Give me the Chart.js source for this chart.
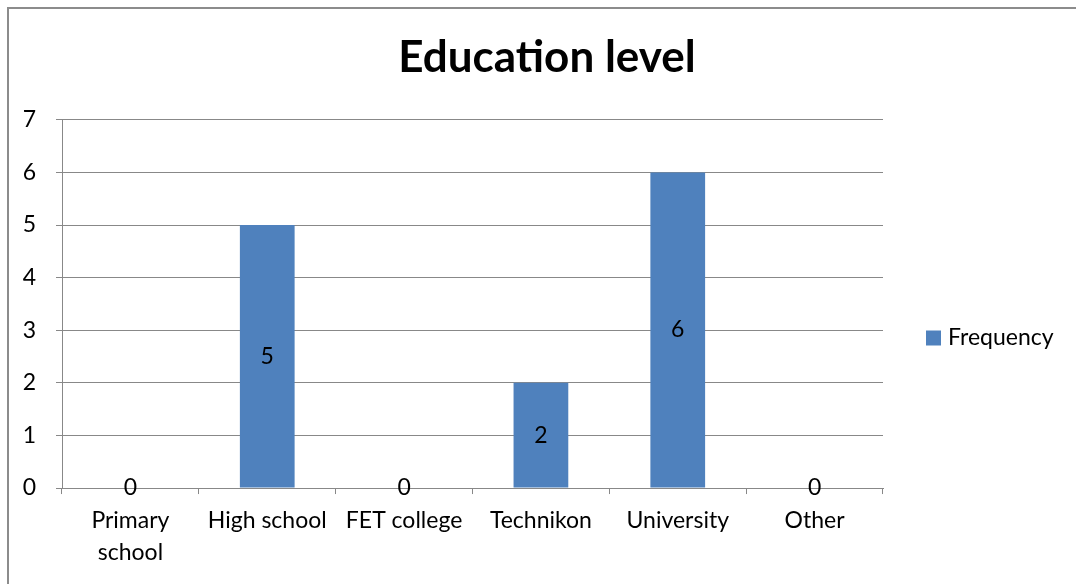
<!DOCTYPE html>
<html>
<head>
<meta charset="utf-8">
<script src="https://cdn.jsdelivr.net/npm/chart.js@4"></script>
<style>
  html, body { margin: 0; padding: 0; background: #fff; }
  #wrap { position: relative; width: 1076px; height: 584px; overflow: hidden; }
  #frame { position: absolute; left: 7px; top: 7px; width: 1200px; height: 700px; border-left: 2px solid #8c8c8c; border-top: 2px solid #8c8c8c; }
  canvas { position: absolute; left: 0; top: 0; }
</style>
</head>
<body>
<div id="wrap">
  <div id="frame"></div>
  <canvas id="myChart" width="1076" height="584"></canvas>
</div>
<script>
const categories = [['Primary', 'school'], 'High school', 'FET college', 'Technikon', 'University', 'Other'];
const frequency = [0, 5, 0, 2, 6, 0];
const yTicks = [0, 1, 2, 3, 4, 5, 6, 7];

const FONT = 'Lato';
const gridColor = '#888888';
const barColor = '#4F81BD';

// value labels in the middle of each bar
const barLabels = {
  id: 'barLabels',
  afterDatasetsDraw(chart) {
    const c = chart.ctx;
    const meta = chart.getDatasetMeta(0);
    c.save();
    c.font = '23px ' + FONT;
    c.fillStyle = '#000';
    c.textAlign = 'center';
    c.textBaseline = 'middle';
    meta.data.forEach((bar, i) => {
      const v = chart.data.datasets[0].data[i];
      c.fillText(String(v), bar.x, (bar.y + bar.base) / 2);
    });
    c.restore();
  }
};

// legend on the right, like the office one
const sideLegend = {
  id: 'sideLegend',
  afterDraw(chart) {
    const c = chart.ctx;
    const ds = chart.data.datasets[0];
    const x = chart.chartArea.right + 43;
    const y = 338;
    c.save();
    c.fillStyle = ds.backgroundColor;
    c.fillRect(x, y - 7.5, 15, 15);
    c.font = '23px ' + FONT;
    c.fillStyle = '#000';
    c.textAlign = 'left';
    c.textBaseline = 'middle';
    c.fillText(ds.label, x + 22, y);
    c.restore();
  }
};

const ctx = document.getElementById('myChart');

new Chart(ctx, {
  type: 'bar',
  data: {
    labels: categories,
    datasets: [{
      label: 'Frequency',
      data: frequency,
      backgroundColor: barColor,
      borderWidth: 0,
      barPercentage: 0.4,
      categoryPercentage: 1
    }]
  },
  options: {
    responsive: false,
    animation: false,
    layout: { padding: { left: 18, right: 0, top: 0, bottom: 4 } },
    plugins: {
      title: {
        display: true,
        text: 'Education level',
        color: '#000',
        font: { family: FONT, size: 44, weight: 'bold' },
        padding: { top: 31, bottom: 36 }
      },
      legend: { display: false },
      tooltip: { enabled: false }
    },
    scales: {
      x: {
        offset: true,
        grid: {
          offset: true,
          drawOnChartArea: false,
          drawTicks: true,
          tickLength: 6,
          color: gridColor
        },
        border: { color: gridColor },
        ticks: {
          color: '#000',
          font: { family: FONT, size: 23, lineHeight: 1.39 },
          padding: 11,
          maxRotation: 0
        }
      },
      y: {
        min: 0,
        max: 7,
        afterBuildTicks: (axis) => { axis.ticks = yTicks.map(v => ({ value: v })); },
        afterFit: (axis) => { axis.width = 44; },
        grid: { color: gridColor, tickLength: 6 },
        border: { color: gridColor },
        ticks: {
          color: '#000',
          font: { family: FONT, size: 23 },
          padding: 20
        }
      },
      // empty space on the right for the legend
      side: {
        position: 'right',
        afterFit: (axis) => { axis.width = 193; },
        grid: { display: false },
        border: { display: false },
        ticks: { display: false }
      }
    }
  },
  plugins: [barLabels, sideLegend]
});
</script>
</body>
</html>
